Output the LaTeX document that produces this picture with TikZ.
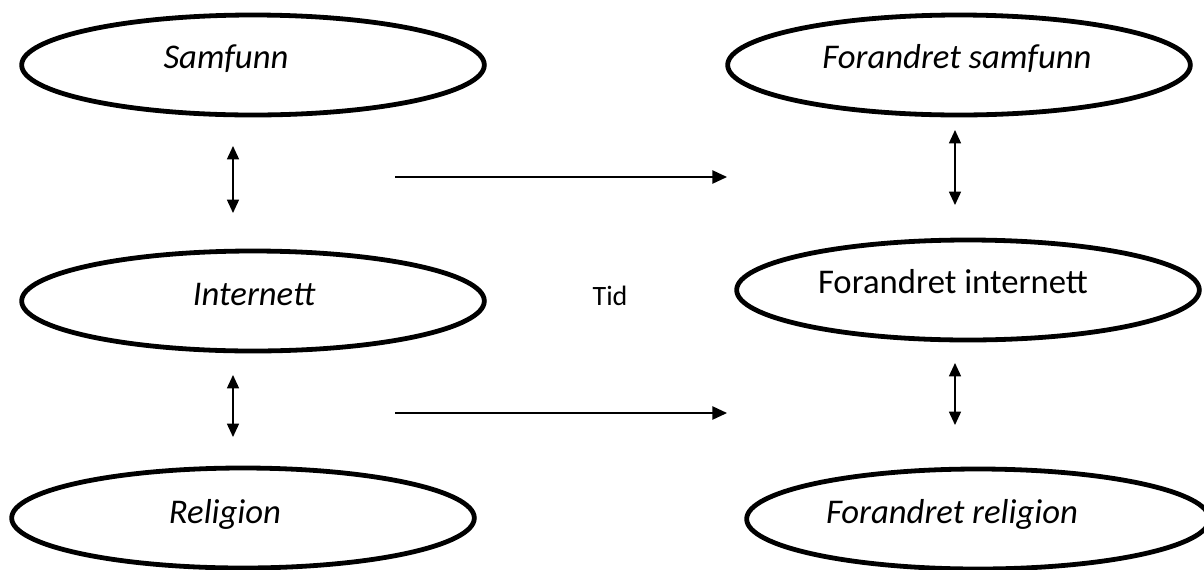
\documentclass[tikz,border=0pt]{standalone}
\usepackage{fontspec}
\setmainfont{Carlito}
\usetikzlibrary{shapes.geometric,arrows.meta}

\begin{document}
\begin{tikzpicture}[x=0.75pt, y=-0.75pt,
    oval/.style={ellipse, draw, line width=3.6pt, minimum width=347pt, minimum height=75pt, inner sep=0pt},
    lbl/.style={anchor=base, inner sep=0pt, font=\fontsize{26}{31}\selectfont\itshape},
    timearrow/.style={line width=1.1pt, -{Triangle[length=11pt,width=10pt]}},
    twoway/.style={line width=1.1pt, {Triangle[length=10pt,width=9pt]}-{Triangle[length=10pt,width=9pt]}}]
    \useasboundingbox (0,0) rectangle (1204,569);

    % Before
    \node[oval] (samfunn) at (253,65) {};
    \node[oval] (internett) at (253,301) {};
    \node[oval] (religion) at (243,518) {};
    \node[lbl] (samfunnT) at (226,68) {Samfunn};
    \node[lbl] (internettT) at (254,305) {Internett};
    \node[lbl] (religionT) at (225,523) {Religion};

    % After
    \node[oval] (fsamfunn) at (959,65) {};
    \node[oval] (finternett) at (968,290) {};
    \node[oval] (freligion) at (978,519) {};
    \node[lbl] (fsamfunnT) at (957,68) {Forandret samfunn};
    \node[lbl, font=\fontsize{26}{31}\selectfont] (finternettT) at (953,293) {Forandret internett};
    \node[lbl] (freligionT) at (952,523) {Forandret religion};

    % Arrow ends
    \coordinate (s1) at (233,146);  \coordinate (i1) at (233,213);
    \coordinate (i2) at (233,375);  \coordinate (r2) at (233,437);
    \coordinate (fs1) at (955,130); \coordinate (fi1) at (955,205);
    \coordinate (fi2) at (955,363); \coordinate (fr2) at (955,425);
    \coordinate (t1) at (395,177);  \coordinate (t2) at (727,177);
    \coordinate (t3) at (395,413);  \coordinate (t4) at (727,413);

    \draw[twoway] (s1) -- (i1);
    \draw[twoway] (i2) -- (r2);
    \draw[twoway] (fs1) -- (fi1);
    \draw[twoway] (fi2) -- (fr2);

    % Time
    \draw[timearrow] (t1) -- (t2);
    \draw[timearrow] (t3) -- (t4);
    \node[lbl, font=\fontsize{21}{25}\selectfont] (tid) at (610,305) {Tid};
\end{tikzpicture}
\end{document}
